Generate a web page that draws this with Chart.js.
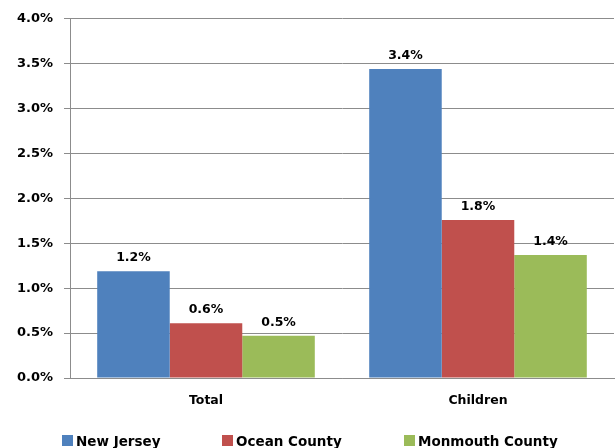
<!DOCTYPE html>
<html>
<head>
<meta charset="utf-8">
<script src="https://cdn.jsdelivr.net/npm/chart.js@4"></script>
<style>
  html, body { margin: 0; padding: 0; background: #ffffff; }
  #wrap { width: 615px; height: 448px; }
</style>
</head>
<body>
<div id="wrap"><canvas id="c" width="615" height="448"></canvas></div>
<script>
// ---- data ----
const categories = ["Total", "Children"];
const seriesNames = ["New Jersey", "Ocean County", "Monmouth County"];
const newJersey = [1.19, 3.44];
const oceanCounty = [0.61, 1.76];
const monmouthCounty = [0.47, 1.37];
const yTickValues = [0, 0.5, 1.0, 1.5, 2.0, 2.5, 3.0, 3.5, 4.0];

const colors = ["#4F81BD", "#C0504D", "#9BBB59"];
const FONT = "'DejaVu Sans', sans-serif";
const GRID = "#8c8c8c";

const dataLabelPlugin = {
  id: "dataLabels",
  afterDatasetsDraw(chart) {
    const ctx = chart.ctx;
    ctx.save();
    ctx.font = "bold 12.5px " + FONT;
    ctx.fillStyle = "#000000";
    ctx.textAlign = "center";
    ctx.textBaseline = "alphabetic";
    chart.data.datasets.forEach((ds, di) => {
      const meta = chart.getDatasetMeta(di);
      meta.data.forEach((bar, i) => {
        ctx.fillText(ds.data[i].toFixed(1) + "%", bar.x, bar.y - 10);
      });
    });
    ctx.restore();
  }
};

const legendPlugin = {
  id: "customLegend",
  afterDraw(chart) {
    const ctx = chart.ctx;
    ctx.save();
    ctx.font = "bold 13.5px " + FONT;
    ctx.textAlign = "left";
    ctx.textBaseline = "alphabetic";
    const starts = [62, 222, 404];
    chart.data.datasets.forEach((ds, i) => {
      const x = starts[i];
      ctx.fillStyle = ds.backgroundColor;
      ctx.fillRect(x, 435, 11, 11);
      ctx.fillStyle = "#000000";
      ctx.fillText(ds.label, x + 14, 446);
    });
    ctx.restore();
  }
};

new Chart(document.getElementById("c"), {
  type: "bar",
  data: {
    labels: categories,
    datasets: [
      { label: seriesNames[0], data: newJersey, backgroundColor: colors[0] },
      { label: seriesNames[1], data: oceanCounty, backgroundColor: colors[1] },
      { label: seriesNames[2], data: monmouthCounty, backgroundColor: colors[2] }
    ]
  },
  options: {
    responsive: false,
    animation: false,
    devicePixelRatio: 1,
    layout: { padding: { top: 17, right: 1, bottom: 0, left: 0 } },
    datasets: { bar: { categoryPercentage: 0.8, barPercentage: 1.0, borderWidth: 0 } },
    plugins: {
      legend: { display: false },
      tooltip: { enabled: false }
    },
    scales: {
      x: {
        grid: { display: false },
        border: { display: true, color: GRID, width: 1 },
        ticks: { color: "#000000", font: { family: FONT, size: 12.5, weight: "bold" }, padding: 7 },
        afterFit(scale) { scale.height = 70; }
      },
      y: {
        min: 0,
        max: 4,
        afterBuildTicks(scale) { scale.ticks = yTickValues.map(v => ({ value: v })); },
        grid: { color: GRID, lineWidth: 1, drawTicks: true, tickLength: 6, tickColor: GRID },
        border: { display: true, color: GRID, width: 1 },
        ticks: {
          color: "#000000",
          padding: 11,
          font: { family: FONT, size: 13, weight: "bold" },
          callback: (v) => Number(v).toFixed(1) + "%"
        },
        afterFit(scale) { scale.width = 70; }
      }
    }
  },
  plugins: [dataLabelPlugin, legendPlugin]
});
</script>
</body>
</html>
